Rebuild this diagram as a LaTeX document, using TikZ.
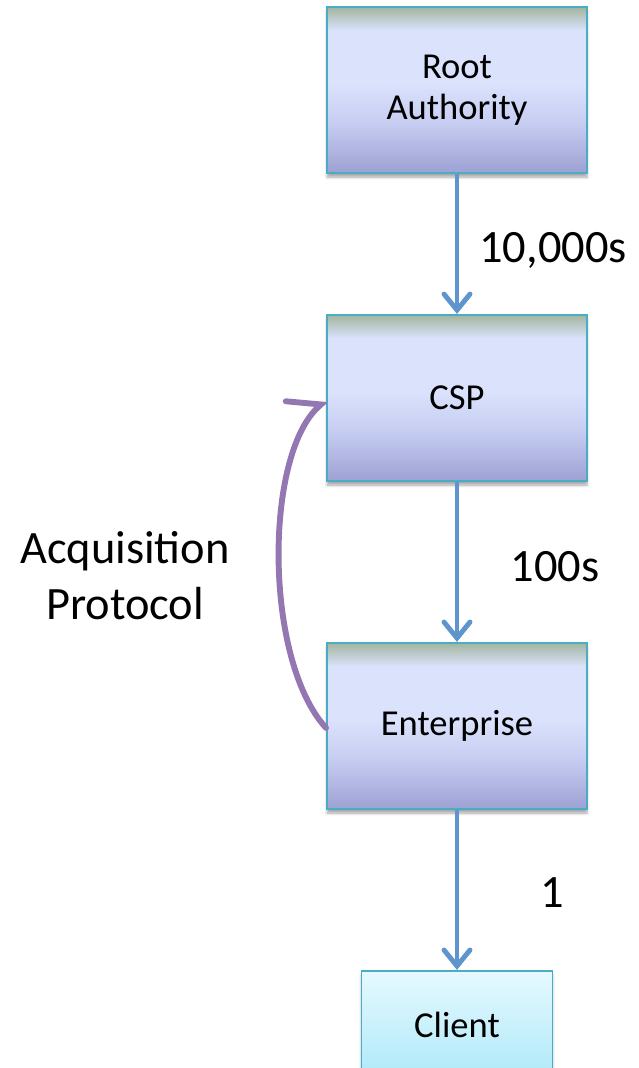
\documentclass[tikz,border=0pt]{standalone}
\usepackage{fontspec}
\setmainfont{Carlito}
\usetikzlibrary{positioning}
\usetikzlibrary{arrows.meta}
\usetikzlibrary{shadows.blur}
\definecolor{boxline}{HTML}{4BACC6}
\definecolor{linkblue}{HTML}{5D95CC}
\definecolor{loopviolet}{HTML}{9476B2}
\definecolor{pbottom}{HTML}{9DA1D4}
\definecolor{pmid}{HTML}{C6CDF1}
\definecolor{plight}{HTML}{DAE2FC}
\definecolor{ptop}{HTML}{A2B59E}
\definecolor{cbottom}{HTML}{AEE9F9}
\definecolor{ctop}{HTML}{E6F9FF}
\pgfdeclareverticalshading{tierfill}{100bp}{color(0bp)=(pbottom); color(25bp)=(pbottom);
  color(40bp)=(pmid); color(52bp)=(plight); color(68bp)=(plight); color(75bp)=(ptop); color(100bp)=(ptop)}
\pgfdeclareverticalshading{clientfill}{100bp}{color(0bp)=(cbottom); color(25bp)=(cbottom);
  color(75bp)=(ctop); color(100bp)=(ctop)}
\tikzset{
    tier/.style = {rectangle, draw=boxline, line width=1.4pt, shading=tierfill, align=center,
      minimum width=6.5cm, minimum height=4.15cm, font=\fontsize{26}{29.5}\selectfont,
      blur shadow={shadow xshift=0pt, shadow yshift=-3pt, shadow blur steps=6, shadow opacity=35}},
    leaf/.style = {rectangle, draw=boxline, line width=1.4pt, shading=clientfill, align=center,
      minimum width=4.775cm, minimum height=2.7cm, font=\fontsize{26}{29}\selectfont,
      blur shadow={shadow xshift=0pt, shadow yshift=-3pt, shadow blur steps=6, shadow opacity=35}},
    link/.style = {line width=3.5pt, linkblue, -{Straight Barb[length=0.4cm, width=0.65cm, line cap=round]}},
    loop/.style = {line width=4.2pt, loopviolet, line cap=round, -{Straight Barb[left, length=0.6cm, width=1.3cm, line cap=round]}},
    count/.style = {font=\fontsize{33}{40}\selectfont, align=center}
}
\begin{document}
\begin{tikzpicture}
  \useasboundingbox (0,0) rectangle (15.975,26.7);
  \node[tier] (root) at (11.425,24.45) {Root\\Authority};
  \node[tier, below=3.5cm of root] (csp) {CSP};
  \node[tier, below=4cm of csp] (ent) {Enterprise};
  \node[leaf, below=4cm of ent] (client) {Client};
  % issuing chain
  \draw[link] (root) -- (csp);
  \draw[link] (csp) -- (ent);
  \draw[link] (ent) -- (client);
  \node[count] (n1) at (13.825,20.45) {10,000s};
  \node[count] (n2) at (13.875,12.525) {100s};
  \node[count] (n3) at (13.8,4.375) {1};
  % enterprise goes back up to the csp
  \draw[loop] ([yshift=-0.05cm]ent.west) .. controls (6.6,10.2) and (6.6,15.3) .. ([yshift=-0.05cm]csp.west);
  \node[count, font=\fontsize{33}{39.7}\selectfont] (acq) at (3.125,12.3) {Acquisition\\Protocol};
\end{tikzpicture}
\end{document}
